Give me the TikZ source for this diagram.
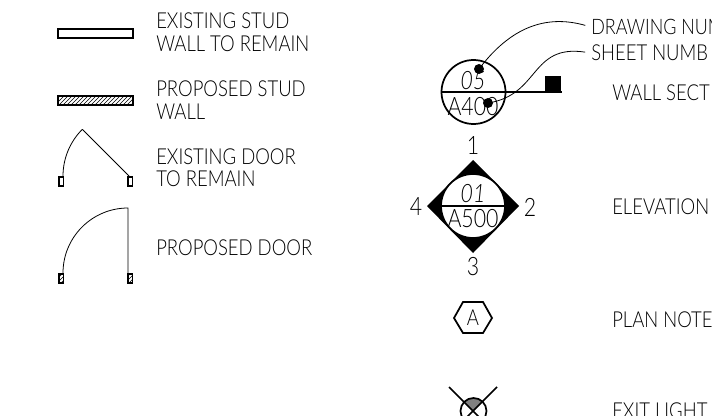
\documentclass[tikz,border=0pt]{standalone}
\usepackage{fontspec}
\setmainfont[UprightFont=* Light,ItalicFont=* Light Italic,FakeStretch=0.84]{Lato}
\usetikzlibrary{patterns}
\tikzset{
  legendtext/.style={anchor=west,inner sep=0pt,font=\fontsize{16.5}{16.5}\selectfont},
  symboltext/.style={inner sep=0pt,font=\fontsize{19}{19}\selectfont},
  numbertext/.style={inner sep=0pt,font=\fontsize{19}{19}\selectfont\itshape},
  heavy/.style={line width=1.3pt},
  thin line/.style={line width=0.6pt},
  hatched/.style={pattern=north east lines,pattern color=black}
}

\begin{document}
\begin{tikzpicture}[x=0.75pt,y=-0.75pt]
    \useasboundingbox (0,0) rectangle (712,416);
    \clip (0,0) rectangle (712,416);

    % stud walls
    \draw[heavy] (58,29) rectangle (133,38);
    \draw[heavy,hatched] (58,96) rectangle (133,105);
    \node[legendtext] (existwallA) at (156,21) {EXISTING STUD};
    \node[legendtext] (existwallB) at (156,44) {WALL TO REMAIN};
    \node[legendtext] (propwallA) at (156,89) {PROPOSED STUD};
    \node[legendtext] (propwallB) at (156,112) {WALL};

    % existing door
    \draw[thin line] (63,176) arc [start angle=180, end angle=225, radius=66];
    \draw[thin line] (129,176) ++(225:66) -- (129,176);
    \draw[heavy,fill=white] (59,177) rectangle (63.5,186);
    \draw[heavy,fill=white] (128,177) rectangle (132.5,186);
    \node[legendtext] (existdoorA) at (156,157) {EXISTING DOOR};
    \node[legendtext] (existdoorB) at (156,179) {TO REMAIN};

    % proposed door
    \draw[thin line] (63,273) arc [start angle=180, end angle=270, radius=65] -- (128,273);
    \draw[heavy,hatched] (59,274) rectangle (63.5,283);
    \draw[heavy,hatched] (128,274) rectangle (132.5,283);
    \node[legendtext] (propdoor) at (156,248) {PROPOSED DOOR};

    % wall section
    \draw[heavy] (473.5,92) circle [radius=32];
    \draw[heavy] (441,92) -- (562,92);
    \fill (545,76) rectangle (561,92);
    \fill (479,69) circle [radius=5] coordinate (dwgdot);
    \fill (488,103) circle [radius=5] coordinate (sheetdot);
    \node[numbertext] (secnum) at (473,81) {05};
    \node[symboltext] (secsheet) at (473,107) {A400};
    \node[legendtext,font=\fontsize{16}{16}\selectfont] (dwglabel) at (591,27) {DRAWING NUM};
    \node[legendtext] (sheetlabel) at (591,53) {SHEET NUMB};
    \node[legendtext] (seclabel) at (612,93) {WALL SECT};
    \draw[thin line,shorten >=4.5pt] (dwgdot) .. controls (510,28) and (545,14) .. (dwglabel.west);
    \draw[thin line,shorten >=4.5pt] (sheetdot) .. controls (540,95) and (530,44) .. (sheetlabel.west);

    % elevation
    \fill (473,160) -- (519,206) -- (473,253) -- (427,206) -- cycle;
    \draw[heavy,fill=white] (473,206) circle [radius=32];
    \draw[heavy] (441,206) -- (505,206);
    \node[numbertext] (elevnum) at (473,194) {01};
    \node[symboltext] (elevsheet) at (473,219) {A500};
    \node[symboltext] (elevA) at (473,146) {1};
    \node[symboltext] (elevB) at (530,207) {2};
    \node[symboltext] (elevC) at (473,267) {3};
    \node[symboltext] (elevD) at (416,207) {4};
    \node[legendtext] (elevlabel) at (612,207) {ELEVATION};

    % plan note
    \draw[heavy] (454,318) -- (463,302) -- (483,302) -- (492,318) -- (483,333) -- (463,333) -- cycle;
    \node[symboltext,font=\fontsize{16.5}{16.5}\selectfont] (planmark) at (473,318) {A};
    \node[legendtext] (planlabel) at (612,320) {PLAN NOTE};

    % exit light
    \fill[gray] (473.5,411) -- ++(-135:13) arc [start angle=-135, end angle=-45, radius=13] -- cycle;
    \draw[heavy] (473.5,411) circle [radius=13];
    \draw[heavy] (449,387) -- (498,436);
    \draw[heavy] (497,387) -- (449,435);
    \node[legendtext] (exitlabel) at (612,411) {EXIT LIGHT};
\end{tikzpicture}
\end{document}
